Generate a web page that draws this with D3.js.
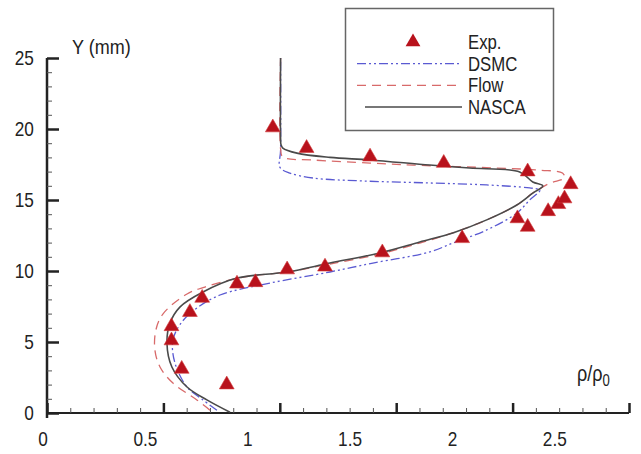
<!DOCTYPE html>
<html><head><meta charset="utf-8">
<script src="https://cdn.jsdelivr.net/npm/d3@7"></script>
<style>
body{margin:0;background:#fff;}
svg{display:block;font-family:"Liberation Sans",Arial,Helvetica,sans-serif;}
</style></head>
<body><svg id="c" width="641" height="454"></svg>
<script>
// ---- data ----
const xTickLabels = [0, 0.5, 1, 1.5, 2, 2.5];
const yTickLabels = [0, 5, 10, 15, 20, 25];
const seriesNames = ["Exp.", "DSMC", "Flow", "NASCA"];

const expX = [0.90,0.68,0.63,0.63,0.72,0.78,0.95,1.04,1.195,1.38,1.66,2.05,2.37,2.32,2.47,2.52,2.55,2.58,2.37,1.96,1.60,1.29,1.125];
const expY = [2.0,3.1,5.1,6.1,7.1,8.1,9.1,9.2,10.1,10.3,11.3,12.3,13.1,13.7,14.2,14.7,15.1,16.1,17.0,17.6,18.05,18.65,20.1];

const nascaX = [0.916,0.803,0.706,0.632,0.608,0.623,0.671,0.784,0.95,1.194,1.404,1.648,1.843,2.004,2.17,2.317,2.395,2.444,2.395,2.331,2.087,1.892,1.599,1.404,1.243,1.174,1.165,1.163,1.163];
const nascaY = [0.05,0.92,1.83,3.24,4.93,6.34,7.46,8.52,9.5,9.93,10.56,11.27,12.04,12.68,13.6,14.65,15.49,15.99,16.27,16.97,17.25,17.46,17.82,18.0,18.3,18.66,18.9,19.4,25];

const dsmcX = [0.852,0.784,0.706,0.647,0.637,0.681,0.754,0.867,1.111,1.404,1.614,1.892,2.004,2.17,2.317,2.38,2.43,2.38,2.17,1.892,1.565,1.321,1.208,1.16,1.163,1.163];
const dsmcY = [0.2,0.92,1.83,3.52,5.14,6.41,7.39,8.31,9.15,9.93,10.56,11.34,11.97,12.89,14.08,15.0,15.7,15.85,16.06,16.2,16.34,16.55,16.9,17.3,18.5,25];

const flowX = [0.818,0.754,0.637,0.574,0.549,0.554,0.588,0.706,0.793,0.916,1.013,1.194,1.404,1.648,1.843,2.004,2.17,2.317,2.395,2.43,2.48,2.55,2.54,2.43,2.22,1.81,1.6,1.321,1.174,1.163,1.163];
const flowY = [0.2,0.92,2.11,3.24,4.44,5.85,6.97,8.38,8.87,9.37,9.65,9.93,10.49,11.2,11.97,12.68,13.6,14.65,15.49,15.8,16.2,16.55,16.9,17.1,17.25,17.46,17.6,17.82,18.03,18.6,25];

// ---- scales ----
const x = d3.scaleLinear().domain([0, 2.865]).range([42.5, 629]);
const y = d3.scaleLinear().domain([0, 25]).range([413, 58]);
const xFrame = d3.scaleLinear().domain([0, 25]).range([47, 629]); // tick frame of the x axis

const svg = d3.select("#c");
const axisColor = "#222";
const SX = 0.82; // condensed type

// ---- x axis: frame ticks ----
const gx = svg.append("g").attr("transform","translate(0,413)");
gx.append("line").attr("x1",xFrame(0)).attr("x2",xFrame(25)).attr("stroke",axisColor).attr("stroke-width",2);
const xm = gx.append("g").call(d3.axisTop(xFrame).tickValues(d3.range(0,26,1)).tickSize(5).tickFormat(""));
xm.select(".domain").remove(); xm.selectAll("line").attr("stroke","#555").attr("stroke-width",1);
const xM = gx.append("g").call(d3.axisTop(xFrame).tickValues(d3.range(0,26,5)).tickSize(10).tickFormat(""));
xM.select(".domain").remove(); xM.selectAll("line").attr("stroke",axisColor).attr("stroke-width",2.5);
// x labels
const gxl = svg.append("g").attr("transform","translate(0,413)")
  .call(d3.axisBottom(x).tickValues(xTickLabels).tickSize(0).tickPadding(18).tickFormat(d3.format("")));
gxl.select(".domain").remove();
gxl.selectAll("text").attr("font-size",21).attr("fill","#222").attr("font-family",null)
  .attr("transform",`scale(${SX},1)`);

// ---- y axis ----
const gy = svg.append("g").attr("transform","translate(47,0)");
gy.append("line").attr("y1",y(25)).attr("y2",418).attr("stroke",axisColor).attr("stroke-width",2.5);
const gym = gy.append("g").call(d3.axisRight(y).tickValues(d3.range(0,26,1)).tickSize(5).tickFormat(""));
gym.select(".domain").remove(); gym.selectAll("line").attr("stroke","#555").attr("stroke-width",1);
const gyM = gy.append("g").call(d3.axisRight(y).tickValues(yTickLabels).tickSize(12).tickFormat(""));
gyM.select(".domain").remove(); gyM.selectAll("line").attr("stroke",axisColor).attr("stroke-width",2.5);
const gyl = svg.append("g").attr("transform","translate(47,0)")
  .call(d3.axisLeft(y).tickValues(yTickLabels).tickSize(0).tickPadding(16));
gyl.select(".domain").remove();
gyl.selectAll("text").attr("font-size",21).attr("fill","#222").attr("font-family",null)
  .attr("transform",`scale(${SX},1)`);

// axis titles
svg.append("g").attr("transform","translate(72,54) scale(0.9,1)")
  .append("text").attr("font-size",20).attr("fill","#222").text("Y (mm)");
const rt = svg.append("g").attr("transform",`translate(577,381) scale(${SX},1)`)
  .append("text").attr("font-size",22).attr("fill","#222");
rt.append("tspan").text("ρ/ρ");
rt.append("tspan").attr("font-size",16).attr("dy",5).text("0");

// ---- lines ----
const line = d3.line().x(d=>x(d[0])).y(d=>y(d[1])).curve(d3.curveCatmullRom.alpha(0.5));
const zip = (a,b)=>a.map((v,i)=>[v,b[i]]);
const styles = {
  DSMC:{color:"#5a5ad2",dash:"9,3,2,3,2,3",w:1.3},
  Flow:{color:"#d86a6a",dash:"9,6",w:1.3},
  NASCA:{color:"#4a4a4a",dash:null,w:1.6}
};
const seriesData = {DSMC:zip(dsmcX,dsmcY), Flow:zip(flowX,flowY), NASCA:zip(nascaX,nascaY)};
["DSMC","Flow","NASCA"].forEach(k=>{
  svg.append("path").attr("d",line(seriesData[k])).attr("fill","none")
    .attr("stroke",styles[k].color).attr("stroke-width",styles[k].w)
    .attr("stroke-dasharray",styles[k].dash);
});

// ---- experimental points ----
const tri = d3.symbol().type(d3.symbolTriangle).size(95);
svg.append("g").selectAll("path").data(zip(expX,expY)).join("path")
  .attr("d",tri).attr("transform",d=>`translate(${x(d[0])},${y(d[1])})`)
  .attr("fill","#b8121c").attr("stroke","#d23a3a").attr("stroke-width",0.6);

// ---- legend ----
const lg = svg.append("g");
lg.append("rect").attr("x",345.5).attr("y",8.5).attr("width",208).attr("height",122)
  .attr("fill","#fff").attr("stroke","#666").attr("stroke-width",1.5);
const ly = d3.scalePoint().domain(seriesNames).range([42,107]);
lg.append("path").attr("d",tri).attr("transform",`translate(413,${ly("Exp.")})`).attr("fill","#b8121c");
["DSMC","Flow","NASCA"].forEach(k=>{
  lg.append("line").attr("x1",k==="NASCA"?365:357).attr("x2",k==="NASCA"?462:459)
    .attr("y1",ly(k)).attr("y2",ly(k))
    .attr("stroke",styles[k].color).attr("stroke-width",styles[k].w).attr("stroke-dasharray",styles[k].dash);
});
lg.selectAll("g.lt").data(seriesNames).join("g").attr("class","lt")
  .attr("transform",d=>`translate(468,${ly(d)}) scale(0.86,1)`)
  .append("text").attr("dy","0.36em").attr("font-size",19.5).attr("fill","#222").text(d=>d);
</script></body></html>
